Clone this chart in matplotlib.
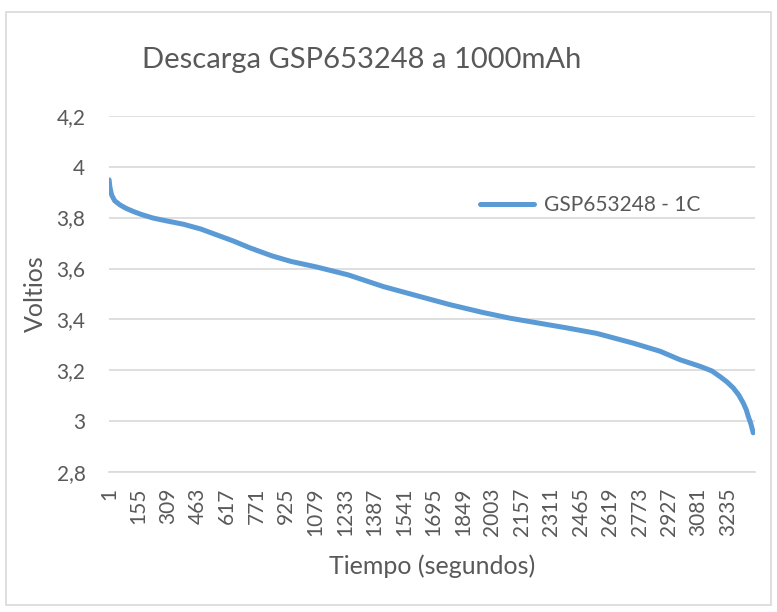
import numpy as np
import matplotlib
matplotlib.use("Agg")
import matplotlib.pyplot as plt
from matplotlib.ticker import FuncFormatter

plt.rcParams['font.family'] = ['Lato', 'DejaVu Sans']

# discharge readings (second index, volts)
seconds = [1, 5, 14, 30, 57, 90, 127, 170, 231, 300, 388, 480, 563, 650, 737,
           850, 950, 1085, 1250, 1434, 1600, 1782, 1950, 2095, 2250, 2391,
           2550, 2739, 2880, 2983, 3088, 3150, 3192, 3230, 3262, 3290, 3314,
           3330, 3340, 3354, 3366]
volts = [3.948, 3.92, 3.889, 3.866, 3.850, 3.836, 3.824, 3.812, 3.798, 3.787,
         3.774, 3.755, 3.732, 3.708, 3.681, 3.650, 3.628, 3.606, 3.575, 3.529,
         3.495, 3.458, 3.428, 3.405, 3.385, 3.367, 3.345, 3.307, 3.275, 3.242,
         3.216, 3.198, 3.176, 3.154, 3.131, 3.104, 3.072, 3.045, 3.020, 2.99,
         2.955]
n_points = 3375
tick_labels = [str(v) for v in range(1, 3236, 154)]
y_ticks = [2.8, 3.0, 3.2, 3.4, 3.6, 3.8, 4.0, 4.2]

txt = '#595959'
blue = '#5B9BD5'

fig = plt.figure(figsize=(7.77, 6.12), dpi=100)
ax = fig.add_axes([0.1403, 0.2283, 0.8314, 0.5827])

ax.plot(seconds, volts, color=blue, lw=3.6, solid_capstyle='round',
        solid_joinstyle='round', label='GSP653248 - 1C')

ax.set_xlim(0.5, n_points + 0.5)
ax.set_ylim(2.8, 4.2)
ax.set_yticks(y_ticks)
ax.yaxis.set_major_formatter(FuncFormatter(
    lambda v, p: ('%g' % round(v, 1)).replace('.', ',')))
ax.set_xticks([int(t) for t in tick_labels])
ax.set_xticklabels(tick_labels, rotation=90)
ax.grid(axis='y', color='#D9D9D9', lw=1.2)
ax.set_axisbelow(True)
for s in ['top', 'right', 'left']:
    ax.spines[s].set_visible(False)
ax.spines['bottom'].set_color('#D9D9D9')
ax.spines['bottom'].set_linewidth(1.2)
ax.tick_params(axis='both', length=0, labelsize=15, colors=txt)
ax.tick_params(axis='y', pad=17)
ax.tick_params(axis='x', pad=11)

ax.set_ylabel('Voltios', fontsize=18, color=txt, labelpad=7)
ax.set_xlabel('Tiempo (segundos)', fontsize=18, color=txt, labelpad=13)
fig.text(0.465, 0.902, 'Descarga GSP653248 a 1000mAh', fontsize=21,
         color=txt, ha='center', va='center')

leg = ax.legend(loc='upper left', bbox_to_anchor=(0.545, 0.83), frameon=False,
                fontsize=15, handlelength=2.6, handletextpad=0.5,
                labelcolor=txt)

# outer chart border
fig.add_artist(plt.Rectangle((6 / 777, 7 / 612), 765 / 777, 593 / 612,
                             transform=fig.transFigure, fill=False,
                             edgecolor='#D9D9D9', lw=1.2))

fig.savefig('out.png', dpi=100)
